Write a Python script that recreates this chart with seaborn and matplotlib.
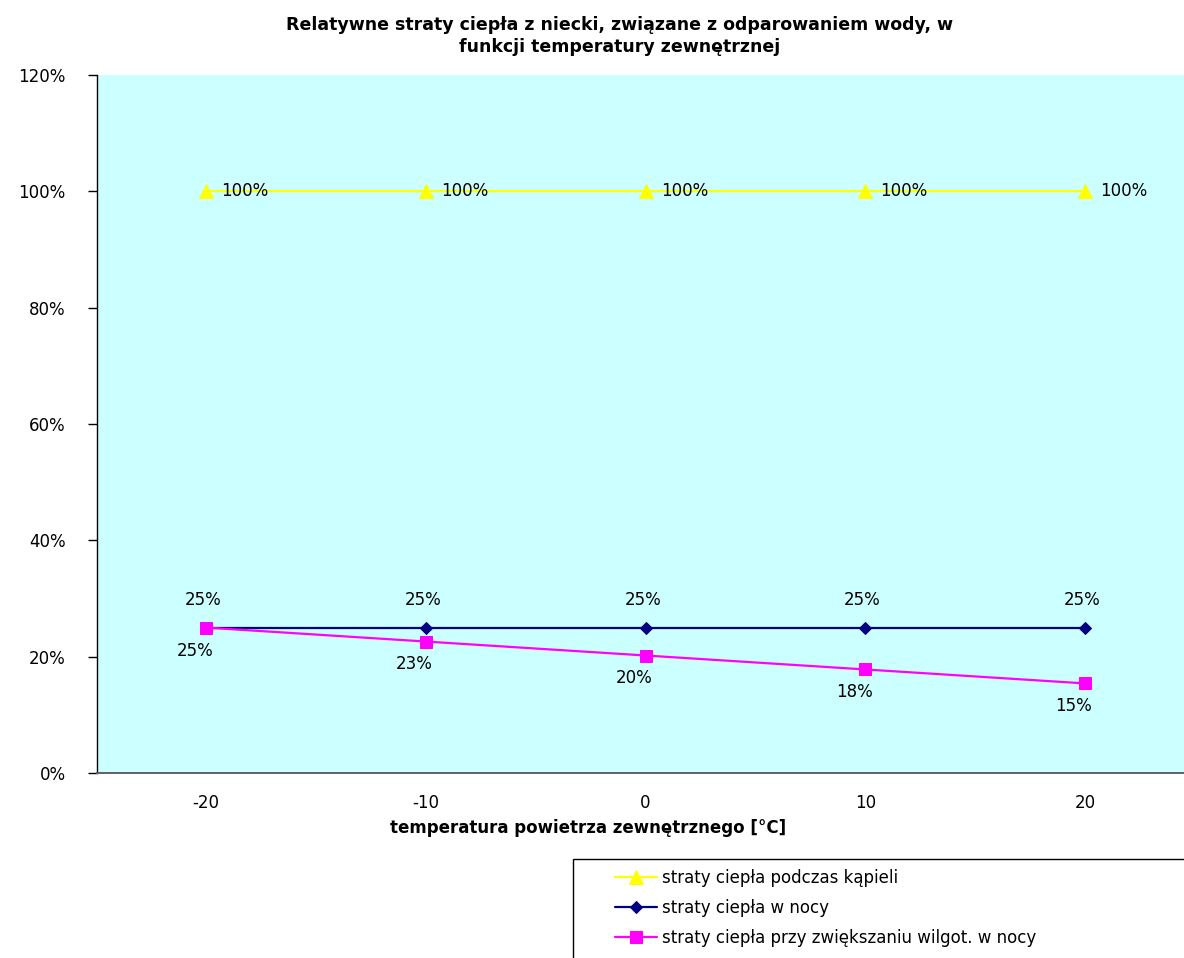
import pandas as pd
import matplotlib
matplotlib.use("Agg")
import matplotlib.pyplot as plt
import seaborn as sns
from matplotlib.patches import Rectangle
from matplotlib.ticker import FuncFormatter

# chart values
temperatures = [-20, -10, 0, 10, 20]
loss_bathing = [100, 100, 100, 100, 100]
loss_night = [25, 25, 25, 25, 25]
loss_humid_night = [25, 22.6, 20.2, 17.8, 15.4]

series_names = [
    "straty ciepła podczas kąpieli",
    "straty ciepła w nocy",
    "straty ciepła przy zwiększaniu wilgot. w nocy",
]
y_ticks = [0, 20, 40, 60, 80, 100, 120]

sns.set_style("ticks")
plt.rcParams["font.family"] = ["DejaVu Sans"]
plt.rcParams.update({"text.color": "black", "axes.labelcolor": "black",
                     "xtick.color": "black", "ytick.color": "black"})

fig = plt.figure(figsize=(11.84, 9.58), dpi=100)
ax = fig.add_axes([97 / 1184, 1 - 773 / 958, 1087 / 1184, 698 / 958])
ax.set_facecolor("#CCFFFF")

df = pd.DataFrame({"temp": temperatures, "bath": loss_bathing,
                   "night": loss_night, "humid": loss_humid_night})

sns.lineplot(data=df, x="temp", y="bath", ax=ax, color="#FFFF00", lw=1.6,
             marker="^", markersize=10, markeredgecolor="#FFFF00",
             label=series_names[0])
sns.lineplot(data=df, x="temp", y="night", ax=ax, color="#000080", lw=1.6,
             marker="D", markersize=6.5, markeredgecolor="#000080",
             label=series_names[1])
sns.lineplot(data=df, x="temp", y="humid", ax=ax, color="#FF00FF", lw=1.6,
             marker="s", markersize=9, markeredgecolor="#FF00FF",
             label=series_names[2])

# data labels
for t, v in zip(temperatures, loss_bathing):
    ax.annotate(f"{v:.0f}%", (t, v), xytext=(11, 0), textcoords="offset points",
                ha="left", va="center", fontsize=12)
for t, v in zip(temperatures, loss_night):
    ax.annotate(f"{v:.0f}%", (t, v), xytext=(-2, 20), textcoords="offset points",
                ha="center", va="center", fontsize=12)
for t, v in zip(temperatures, loss_humid_night):
    ax.annotate(f"{round(v):.0f}%", (t, v), xytext=(-8, -16.5), textcoords="offset points",
                ha="center", va="center", fontsize=12)

ax.set_xlim(-24.96, 24.5)
ax.set_ylim(0, 120)
ax.set_xticks(temperatures)
ax.set_xticklabels([str(t) for t in temperatures])
ax.set_yticks(y_ticks)
ax.yaxis.set_major_formatter(FuncFormatter(lambda v, p: f"{v:.0f}%"))
ax.tick_params(axis="y", length=6.5, width=1, color="black", pad=16, labelsize=12)
ax.tick_params(axis="x", length=0, pad=15, labelsize=12)

for side in ["top", "right"]:
    ax.spines[side].set_visible(False)
ax.spines["left"].set_color("black")
ax.spines["left"].set_linewidth(1)
ax.spines["bottom"].set_color("#606060")
ax.spines["bottom"].set_linewidth(1.4)

ax.set_ylabel("")
ax.set_xlabel("temperatura powietrza zewnętrznego [°C]", fontsize=12, fontweight="bold")
ax.xaxis.set_label_coords((588 - 97) / 1087, (773 - 819) / 698)

fig.text(620 / 1184, 1 - 16 / 958,
         "Relatywne straty ciepła z niecki, związane z odparowaniem wody, w\nfunkcji temperatury zewnętrznej",
         ha="center", va="top", fontsize=12.5, fontweight="bold", linespacing=1.3)

# legend box in the lower right, running off the figure edge
ax.legend(loc="upper left", bbox_to_anchor=(615 / 1184, 1 - 869 / 958),
          bbox_transform=fig.transFigure, frameon=False, fontsize=12,
          borderpad=0, handlelength=2.5, handletextpad=0.3, labelspacing=0.72,
          borderaxespad=0)
fig.patches.append(Rectangle((573 / 1184, -0.01), 0.6, (958 - 859) / 958 + 0.01,
                             transform=fig.transFigure, fill=False,
                             edgecolor="black", linewidth=1))

fig.savefig("out.png", dpi=100)
